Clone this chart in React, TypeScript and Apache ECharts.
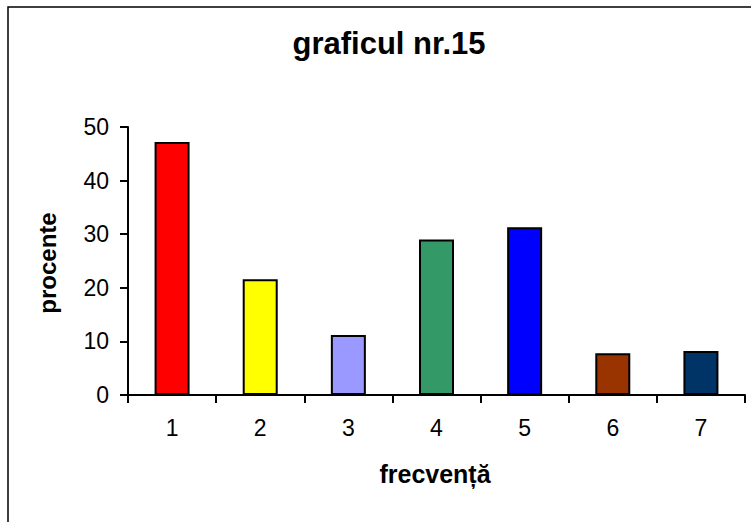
import React, { useEffect, useRef } from "react";
import * as echarts from "echarts";

const categories = ["1", "2", "3", "4", "5", "6", "7"];
const values = [47.2, 21.6, 11.2, 29.0, 31.3, 7.8, 8.2];
const barColors = ["#FF0000", "#FFFF00", "#9999FF", "#339966", "#0000FF", "#993300", "#003366"];
const titleText = "graficul nr.15";
const xName = "frecvență";
const yName = "procente";

const FONT = "'Liberation Sans', Arial, sans-serif";

export default function App() {
  const ref = useRef<HTMLDivElement>(null);
  useEffect(() => {
    if (!ref.current) return;
    const chart = echarts.init(ref.current, undefined, { renderer: "svg" });
    chart.setOption({
      animation: false,
      backgroundColor: "#ffffff",
      grid: { left: 128, right: 6, top: 127, bottom: 127, containLabel: false },
      xAxis: {
        type: "category",
        data: categories,
        boundaryGap: true,
        axisLine: { lineStyle: { color: "#000", width: 2 } },
        axisTick: { show: true, length: 8, lineStyle: { color: "#000", width: 2 } },
        axisLabel: { color: "#000", fontSize: 23, fontFamily: FONT, margin: 21 },
        splitLine: { show: false },
      },
      yAxis: {
        type: "value",
        min: 0,
        max: 50,
        interval: 10,
        axisLine: { show: true, lineStyle: { color: "#000", width: 2 } },
        axisTick: { show: true, length: 8, lineStyle: { color: "#000", width: 2 } },
        axisLabel: { color: "#000", fontSize: 23, fontFamily: FONT, margin: 19 },
        splitLine: { show: false },
      },
      series: [
        {
          type: "bar",
          barWidth: 35,
          data: values.map((v, i) => ({
            value: v,
            itemStyle: { color: barColors[i], borderColor: "#000", borderWidth: 2 },
          })),
        },
      ],
      graphic: [
        {
          type: "rect",
          shape: { x: 8, y: 7, width: 900, height: 700 },
          style: { fill: "none", stroke: "#000", lineWidth: 1.5 },
          silent: true,
        },
        {
          type: "text",
          x: 389,
          y: 43,
          style: {
            text: titleText,
            fill: "#000",
            font: `bold 31px ${FONT}`,
            textAlign: "center",
            textVerticalAlign: "middle",
          },
        },
        {
          type: "text",
          x: 435,
          y: 474,
          style: {
            text: xName,
            fill: "#000",
            font: `bold 25px ${FONT}`,
            textAlign: "center",
            textVerticalAlign: "middle",
          },
        },
        {
          type: "text",
          x: 47,
          y: 263,
          rotation: Math.PI / 2,
          style: {
            text: yName,
            fill: "#000",
            font: `bold 24px ${FONT}`,
            textAlign: "center",
            textVerticalAlign: "middle",
          },
        },
      ],
    });
    return () => chart.dispose();
  }, []);
  return (
    <div
      ref={ref}
      style={{ position: "fixed", left: 0, top: 0, width: 751, height: 522, background: "#fff" }}
    />
  );
}
